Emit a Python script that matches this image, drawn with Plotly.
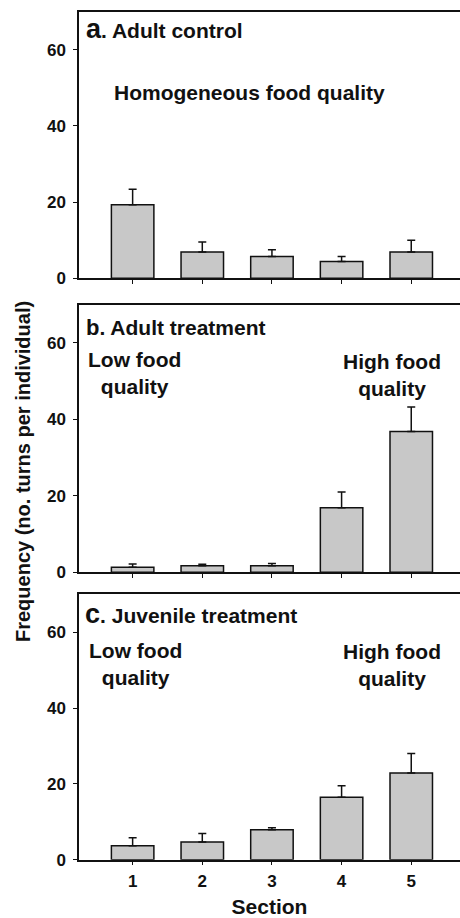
import plotly.graph_objects as go

# Mean turning frequency per section, with upper standard-error bars
sections = [1, 2, 3, 4, 5]
section_labels = ["1", "2", "3", "4", "5"]

adult_control = [19.3, 6.9, 5.7, 4.4, 6.9]
adult_control_se = [4.1, 2.6, 1.8, 1.3, 3.1]

adult_treatment = [1.3, 1.7, 1.7, 16.9, 36.8]
adult_treatment_se = [0.9, 0.4, 0.6, 4.1, 6.4]

juvenile_treatment = [3.7, 4.7, 7.9, 16.5, 22.9]
juvenile_treatment_se = [2.1, 2.2, 0.5, 3.0, 5.1]

y_ticks = [0, 20, 40, 60]

W, H = 460, 918
FONT = "Liberation Sans, Arial, sans-serif"
BAR_FILL = "#c8c8c8"
INK = "#111111"


def px_x(p):
    return p / W


def px_y(p):
    return 1 - p / H


panels = [
    (adult_control, adult_control_se, (278.3, 11.7)),
    (adult_treatment, adult_treatment_se, (572.3, 304.5)),
    (juvenile_treatment, juvenile_treatment_se, (859.7, 594.4)),
]

fig = go.Figure()
layout = dict(
    width=W, height=H,
    margin=dict(l=0, r=0, t=0, b=0),
    paper_bgcolor="white", plot_bgcolor="white",
    showlegend=False,
    font=dict(family=FONT, color=INK),
    bargap=0.39,
)

for i, (vals, se, (bottom, top)) in enumerate(panels, start=1):
    sfx = "" if i == 1 else str(i)
    fig.add_trace(go.Bar(
        x=sections, y=vals,
        xaxis="x" + sfx, yaxis="y" + sfx,
        marker=dict(color=BAR_FILL, line=dict(color=INK, width=1.5)),
        width=0.61,
        error_y=dict(type="data", array=se, arrayminus=[0] * len(se),
                     symmetric=False, color=INK, thickness=1.5, width=4),
    ))
    last = i == len(panels)
    xa = dict(
        domain=[px_x(79), 1],
        range=[0.23, 5.70],
        anchor="y" + sfx,
        tickmode="array", tickvals=sections,
        ticktext=section_labels if last else [""] * 5,
        showticklabels=last,
        ticks="outside", ticklen=4, tickwidth=1.2, tickcolor=INK,
        showline=True, linecolor=INK, linewidth=1.5, mirror=True,
        showgrid=False, zeroline=False,
        tickfont=dict(family=FONT, size=17, color=INK, weight="bold"),
        ticklabelstandoff=1,
        automargin=False,
        fixedrange=True,
    )
    if last:
        xa["title"] = dict(
            text="Section", standoff=12,
            font=dict(family=FONT, size=21, color=INK, weight="bold"),
        )
    layout["xaxis" + sfx] = xa
    layout["yaxis" + sfx] = dict(
        domain=[px_y(bottom), px_y(top)],
        range=[0, 70],
        anchor="x" + sfx,
        tickmode="array", tickvals=y_ticks,
        ticks="outside", ticklen=4, tickwidth=1.2, tickcolor=INK,
        showline=True, linecolor=INK, linewidth=1.5,
        showgrid=False, zeroline=False,
        tickfont=dict(family=FONT, size=17, color=INK, weight="bold"),
        ticklabelstandoff=4,
        automargin=False,
        fixedrange=True,
    )

fig.update_layout(**layout)

TXT = dict(family=FONT, size=21, color=INK, weight="bold")


def note(text, x, y, xanchor="center", yanchor="middle", angle=0, size=21):
    fig.add_annotation(
        text=text, x=px_x(x), y=px_y(y), xref="paper", yref="paper",
        xanchor=xanchor, yanchor=yanchor, showarrow=False, textangle=angle,
        font=dict(TXT, size=size), align="center",
    )


# Panel titles
note("<span style='font-size:27px'>a</span>. Adult control", 84, 29, xanchor="left")
note("<span style='font-size:22px'>b</span>. Adult treatment", 84, 327, xanchor="left")
note("<span style='font-size:27px'>c</span>. Juvenile treatment", 83, 614, xanchor="left")

# Food-quality descriptions
note("Homogeneous food quality", 249, 93)
note("Low food<br>quality", 134, 373)
note("High food<br>quality", 392, 375)
note("Low food<br>quality", 135, 664)
note("High food<br>quality", 392, 665)

# Shared y-axis title spanning all three panels
note("Frequency (no. turns per individual)", 23, 472, angle=-90, size=20)

fig.write_html("out.html")
